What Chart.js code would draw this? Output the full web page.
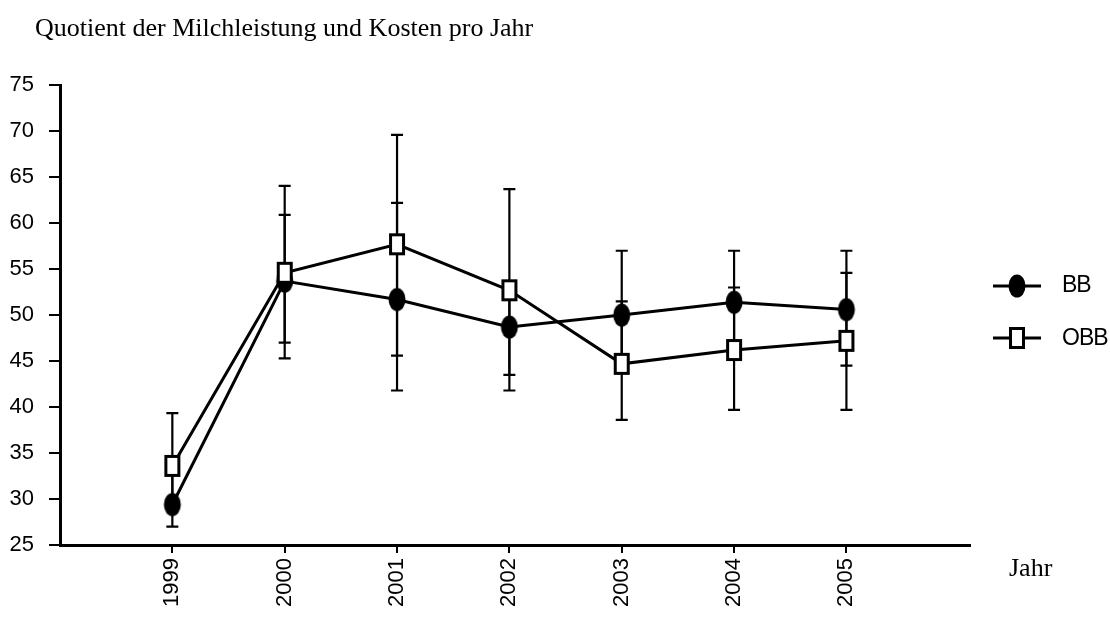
<!DOCTYPE html>
<html>
<head>
<meta charset="utf-8">
<script src="https://cdn.jsdelivr.net/npm/chart.js@4/dist/chart.umd.min.js"></script>
<style>
  html, body { margin: 0; padding: 0; background: #fff; }
  #wrap { width: 1110px; height: 618px; }
</style>
</head>
<body>
<div id="wrap"><canvas id="c" width="1110" height="618"></canvas></div>
<script>
const chartTitle = 'Quotient der Milchleistung und Kosten pro Jahr';
const xAxisTitle = 'Jahr';
const years = [1999, 2000, 2001, 2002, 2003, 2004, 2005];
const seriesNames = ['BB', 'OBB'];
const bbMean = [29.4, 53.7, 51.7, 48.7, 50.0, 51.4, 50.6];
const bbErrUp = [4.0, 7.2, 10.5, 4.5, 7.0, 5.6, 6.4];
const bbErrDown = [2.4, 6.7, 9.9, 5.2, 5.5, 5.6, 6.1];
const obbMean = [33.6, 54.6, 57.7, 52.7, 44.7, 46.2, 47.2];
const obbErrUp = [5.75, 9.45, 11.9, 11.0, 6.8, 6.8, 7.4];
const obbErrDown = [4.5, 9.3, 12.1, 10.9, 6.1, 6.5, 7.5];
const yTicks = { min: 25, max: 75, step: 5 };

Chart.defaults.font.family = '"Liberation Sans", Arial, sans-serif';
Chart.defaults.color = '#000';

function makeEllipse(lineLen) {
  const w = lineLen || 20, h = 26;
  const c = document.createElement('canvas');
  c.width = w; c.height = h;
  const g = c.getContext('2d');
  if (lineLen) {
    g.strokeStyle = '#000'; g.lineWidth = 3;
    g.beginPath(); g.moveTo(0, h / 2); g.lineTo(w, h / 2); g.stroke();
  }
  g.fillStyle = '#000';
  g.beginPath(); g.ellipse(w / 2, h / 2, 8.5, 11.5, 0, 0, Math.PI * 2); g.fill();
  return c;
}
function makeSquare(lineLen) {
  const w = lineLen || 20, h = 26;
  const c = document.createElement('canvas');
  c.width = w; c.height = h;
  const g = c.getContext('2d');
  if (lineLen) {
    g.strokeStyle = '#000'; g.lineWidth = 3;
    g.beginPath(); g.moveTo(0, h / 2); g.lineTo(w, h / 2); g.stroke();
  }
  g.fillStyle = '#fff';
  g.fillRect(w / 2 - 6.5, h / 2 - 9.5, 13, 19);
  g.strokeStyle = '#000'; g.lineWidth = 3;
  g.strokeRect(w / 2 - 6.5, h / 2 - 9.5, 13, 19);
  return c;
}

const pointSymbols = [makeEllipse(), makeSquare()];
const legendSymbols = [makeEllipse(48), makeSquare(48)];
const errUp = [bbErrUp, obbErrUp];
const errDown = [bbErrDown, obbErrDown];

const errorBarPlugin = {
  id: 'errorBars',
  beforeDatasetsDraw(chart) {
    const { ctx, scales: { x, y } } = chart;
    ctx.save();
    ctx.strokeStyle = '#000';
    ctx.lineWidth = 2.2;
    chart.data.datasets.forEach((ds, di) => {
      ds.data.forEach((p, i) => {
        const px = x.getPixelForValue(p.x);
        const yt = y.getPixelForValue(p.y + errUp[di][i]);
        const yb = y.getPixelForValue(p.y - errDown[di][i]);
        ctx.beginPath();
        ctx.moveTo(px, yt); ctx.lineTo(px, yb);
        ctx.moveTo(px - 6, yt); ctx.lineTo(px + 6, yt);
        ctx.moveTo(px - 6, yb); ctx.lineTo(px + 6, yb);
        ctx.stroke();
      });
    });
    ctx.restore();
  }
};

const sideLegendPlugin = {
  id: 'sideLegend',
  afterLayout(chart) {
    if (chart.titleBlock) chart.titleBlock.left = 35;
  },
  afterDraw(chart) {
    const { ctx, chartArea: a } = chart;
    ctx.save();
    ctx.fillStyle = '#000';
    ctx.font = '23px "Liberation Sans", Arial, sans-serif';
    if ('letterSpacing' in ctx) ctx.letterSpacing = '-1px';
    ctx.textBaseline = 'middle';
    ctx.textAlign = 'left';
    chart.data.datasets.forEach((ds, i) => {
      const cy = a.top + 200.5 + i * 52.5;
      const img = legendSymbols[i];
      ctx.drawImage(img, a.right + 23, Math.round(cy - img.height / 2));
      ctx.fillText(ds.label, a.right + 92, cy);
    });
    if ('letterSpacing' in ctx) ctx.letterSpacing = '0px';
    ctx.font = '26px "Liberation Serif", "Times New Roman", serif';
    ctx.textBaseline = 'alphabetic';
    ctx.fillText(xAxisTitle, a.right + 39, a.bottom + 31);
    ctx.restore();
  }
};

new Chart(document.getElementById('c'), {
  type: 'line',
  data: {
    datasets: [
      {
        label: seriesNames[0],
        data: years.map((yr, i) => ({ x: yr, y: bbMean[i] })),
        borderColor: '#000', borderWidth: 3, tension: 0, fill: false,
        pointStyle: pointSymbols[0], pointRadius: 8, order: 1
      },
      {
        label: seriesNames[1],
        data: years.map((yr, i) => ({ x: yr, y: obbMean[i] })),
        borderColor: '#000', borderWidth: 3, tension: 0, fill: false,
        pointStyle: pointSymbols[1], pointRadius: 8, order: 0
      }
    ]
  },
  options: {
    responsive: false,
    animation: false,
    devicePixelRatio: 1,
    layout: { padding: { left: 0, right: 140, top: 0, bottom: 0 } },
    plugins: {
      legend: { display: false },
      tooltip: { enabled: false },
      title: {
        display: true, text: chartTitle, align: 'start', color: '#000',
        font: { family: '"Liberation Serif", "Times New Roman", serif', size: 26, weight: 'normal', lineHeight: 1.2 },
        padding: { top: 14, bottom: 40 }
      }
    },
    scales: {
      x: {
        type: 'linear', min: 1998, max: 2006.1,
        afterBuildTicks: s => { s.ticks = years.map(v => ({ value: v })); },
        afterFit: s => { s.height = 73; },
        ticks: {
          minRotation: 90, maxRotation: 90, padding: 5, autoSkip: false,
          color: '#000', font: { size: 22 },
          callback: v => String(v)
        },
        grid: { drawOnChartArea: false, drawTicks: true, tickLength: 8, color: '#000', lineWidth: 2 },
        border: { display: true, color: '#000', width: 3 }
      },
      y: {
        min: yTicks.min, max: yTicks.max,
        afterFit: s => { s.width = 60; },
        ticks: { stepSize: yTicks.step, padding: 15, color: '#000', font: { size: 22 } },
        grid: { drawOnChartArea: false, drawTicks: true, tickLength: 11, color: '#000', lineWidth: 2 },
        border: { display: true, color: '#000', width: 3 }
      }
    }
  },
  plugins: [errorBarPlugin, sideLegendPlugin]
});
</script>
</body>
</html>
